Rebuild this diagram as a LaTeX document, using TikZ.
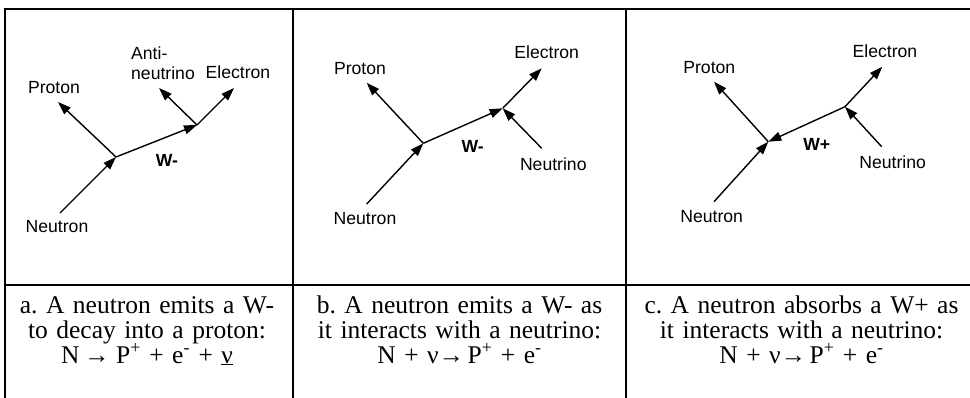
\documentclass[tikz,border=0pt]{standalone}
\usepackage{fontspec}
\setmainfont{Liberation Serif}
\newfontfamily\arialfam{Liberation Sans}
\usetikzlibrary{arrows.meta}
\frenchspacing
\newcommand{\rarrowtight}{→\kern-0.2em}
\begin{document}
\begin{tikzpicture}[x=1pt,y=-1pt,
  gridline/.style={line width=2pt,line cap=rect},
  particle/.style={line width=1.4pt,-{Triangle[length=13pt,width=9pt]}},
  lbl/.style={font=\arialfam\fontsize{17.6}{20}\selectfont,inner sep=0pt},
  wlbl/.style={font=\arialfam\bfseries\fontsize{17.6}{20}\selectfont,inner sep=0pt},
  captext/.style={font=\frenchspacing\fontsize{25.5}{25}\selectfont,align=center,text width=330pt,anchor=base,inner sep=0pt}
]
\useasboundingbox (0,0) rectangle (970,397);
% table grid
\coordinate (g1) at (5,397);
\coordinate (g2) at (5,8.5);
\coordinate (g3) at (970,8.5);
\coordinate (g4) at (5,285);
\coordinate (g5) at (970,285);
\coordinate (g6) at (293,8.5);
\coordinate (g7) at (293,397);
\coordinate (g8) at (626,8.5);
\coordinate (g9) at (626,397);
\draw[gridline] (g1) -- (g2) -- (g3);
\draw[gridline] (g4) -- (g5);
\draw[gridline] (g6) -- (g7);
\draw[gridline] (g8) -- (g9);

% panel a
\coordinate (an) at (60,213);
\coordinate (av1) at (116,157);
\coordinate (ap) at (58,102);
\coordinate (av2) at (197,125);
\coordinate (aa) at (159,88);
\coordinate (ae) at (234,88);
\draw[particle] (an) -- (av1);
\draw[particle] (av1) -- (ap);
\draw[particle] (av1) -- (av2);
\draw[particle] (av2) -- (aa);
\draw[particle] (av2) -- (ae);
\node[lbl] (alp) at (54,88) {Proton};
\node[lbl,align=left,font=\arialfam\fontsize{17.6}{20}\selectfont] (ala) at (163,63) {Anti-\\neutrino};
\node[lbl] (ale) at (238,72) {Electron};
\node[wlbl] (alw) at (167,160) {W-};
\node[lbl] (aln) at (57,227) {Neutron};

% panel b
\coordinate (bn) at (366.7,204);
\coordinate (bv1) at (423.3,143.3);
\coordinate (bp) at (366.7,82.7);
\coordinate (bv2) at (502.7,108.3);
\coordinate (be) at (541.7,68.3);
\coordinate (bnu) at (541.7,148.3);
\draw[particle] (bn) -- (bv1);
\draw[particle] (bv1) -- (bp);
\draw[particle] (bv1) -- (bv2);
\draw[particle] (bv2) -- (be);
\draw[particle] (bnu) -- (bv2);
\node[lbl] (blp) at (360,68.3) {Proton};
\node[lbl] (ble) at (546.7,52.7) {Electron};
\node[wlbl] (blw) at (472.7,146.7) {W-};
\node[lbl] (blnu) at (553.3,164) {Neutrino};
\node[lbl] (bln) at (365,219) {Neutron};

% panel c
\coordinate (cn) at (714,201.7);
\coordinate (cv1) at (768.3,141.7);
\coordinate (cp) at (714,81.7);
\coordinate (cv2) at (845,106.7);
\coordinate (ce) at (882.3,66.7);
\coordinate (cnu) at (881.7,146.7);
\draw[particle] (cn) -- (cv1);
\draw[particle] (cv1) -- (cp);
\draw[particle] (cv2) -- (cv1);
\draw[particle] (cv2) -- (ce);
\draw[particle] (cnu) -- (cv2);
\node[lbl] (clp) at (709.3,67.7) {Proton};
\node[lbl] (cle) at (885,51.7) {Electron};
\node[wlbl] (clw) at (816.7,144) {W+};
\node[lbl] (clnu) at (892.7,162.3) {Neutrino};
\node[lbl] (cln) at (711.7,216.7) {Neutron};

% captions
\node[captext] (capa) at (147,313) {a. A neutron emits a W-\\to decay into a proton:\\N\kern-0.15em{} →\kern-0.08em{} P\textsuperscript{+} + e\textsuperscript{-} + \underline{ν}};
\node[captext] (capb) at (459.5,313) {b. A neutron emits a W- as\\it interacts with a neutrino:\\N + ν\rarrowtight{} P\textsuperscript{+} + e\textsuperscript{-}};
\node[captext] (capc) at (801.5,313) {c. A neutron absorbs a W+ as\\it interacts with a neutrino:\\N + ν\rarrowtight{} P\textsuperscript{+} + e\textsuperscript{-}};
\end{tikzpicture}
\end{document}
